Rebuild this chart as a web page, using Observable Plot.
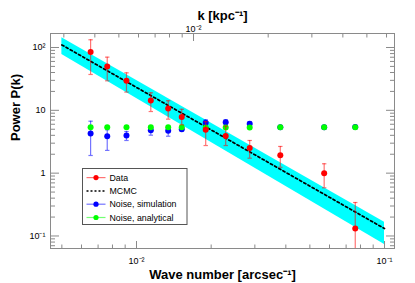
<!DOCTYPE html>
<html><head><meta charset="utf-8">
<script src="https://cdn.jsdelivr.net/npm/d3@7"></script>
<script src="https://cdn.jsdelivr.net/npm/@observablehq/plot@0.6"></script>
<style>
html,body{margin:0;padding:0;background:#fff;}
#chart{width:415px;height:283px;}
svg{font-family:"Liberation Sans",Arial,Helvetica,sans-serif;}
</style></head><body><div id="chart"></div>
<script>
// ---- data ----
const waveNumber = [0.00653,0.00762,0.00911,0.01142,0.01342,0.01522,0.01901,0.02289,0.0286,0.038,0.0571,0.0762];
const dataP  = [85, 50, 29.5, 14.3, 10.7, 7.8, 4.9, 3.9, 2.51, 1.93, 1.0, 0.131];
const dataLo = [37.2, 29.5, 19.5, 9.57, 7.23, 5.89, 2.75, 2.75, 1.73, 1.24, 0.585, 0.02];
const dataHi = [132.7, 70.2, 39.5, 19.0, 14.2, 10.4, 6.6, 5.6, 3.31, 2.66, 1.41, 0.341];
const simP   = [4.27, 3.87, 3.97, 4.83, 4.72, 5.01, 6.34, 6.48, 6.11, 5.36, 5.36, 5.42];
const simLo  = [1.91, 2.30, 3.31, 4.02, 3.87, 4.69, 5.68, 5.94, 5.68, 5.15, 5.15, 5.2];
const simHi  = [6.71, 4.90, 4.60, 5.53, 5.20, 5.33, 7.07, 7.07, 6.57, 5.6, 5.6, 5.65];
const anaP   = [5.36, 5.36, 5.36, 5.36, 5.36, 5.36, 5.33, 5.33, 5.35, 5.38, 5.4, 5.38];
const mcmcK  = [0.005, 0.1];
const mcmcP  = [110, 0.131];
const mcmcLo = [77.4, 0.0733];
const mcmcHi = [142.6, 0.166];
const legendLabels = ["Data", "MCMC", "Noise, simulation", "Noise, analytical"];
const yMajorTicks = [0.1, 1, 10, 100];
const xMajorTicks = [0.01, 0.1];
const kMajorTicks = [0.01];
const kPerArcsec = 0.589;   // k [kpc^-1] per wave number [arcsec^-1]
const xTitle = "Wave number [arcsec⁻¹]";
const yTitle = "Power P(k)";
const topTitle = "k [kpc⁻¹]";

// ---- helpers ----
const xDomain = [0.0045, 0.1097];
const yDomain = [0.0632, 167];
const supMap = {"-":"⁻","0":"⁰","1":"¹","2":"²","3":"³","4":"⁴","5":"⁵","6":"⁶","7":"⁷","8":"⁸","9":"⁹"};
function fmtPow(v){
  const e = Math.round(Math.log10(v));
  if (e === 0) return "1";
  if (e === 1) return "10";
  return "10" + String(e).split("").map(c => supMap[c]).join("");
}
function minorTicks(lo, hi){
  const out = [];
  for (let e = Math.floor(Math.log10(lo)) - 1; e <= Math.ceil(Math.log10(hi)); e++)
    for (let m = 2; m <= 9; m++){ const v = m * Math.pow(10, e); if (v >= lo && v <= hi) out.push(v); }
  return out;
}
const yMinor = minorTicks(yDomain[0], yDomain[1]);
const xMinor = minorTicks(xDomain[0], xDomain[1]);
const kMinor = minorTicks(xDomain[0]*kPerArcsec, xDomain[1]*kPerArcsec);

const rows = waveNumber.map((k, i) => ({k, d: dataP[i], dLo: dataLo[i], dHi: dataHi[i],
  s: simP[i], sLo: simLo[i], sHi: simHi[i], a: anaP[i]}));
const mcmcRows = mcmcK.map((k, i) => ({k, p: mcmcP[i], lo: mcmcLo[i], hi: mcmcHi[i]}));

const cap = {draw(ctx, size){ const w = Math.sqrt(size/Math.PI); ctx.moveTo(-w,0); ctx.lineTo(w,0); }};
const RED = "#ff0000", BLUE = "#0000ff", GREEN = "#00ff00", CYAN = "#00ffff";
const AX = "#8a8a8a";

function errorBars(lo, hi, color){
  return [
    Plot.ruleX(rows, {x:"k", y1: lo, y2: hi, stroke: color, strokeOpacity: 0.55, strokeWidth: 1.2, clip: true}),
    Plot.dot(rows, {x:"k", y: lo, symbol: cap, r: 2.2, stroke: color, strokeOpacity: 0.55, strokeWidth: 1.2, clip: true}),
    Plot.dot(rows, {x:"k", y: hi, symbol: cap, r: 2.2, stroke: color, strokeOpacity: 0.55, strokeWidth: 1.2, clip: true})
  ];
}

const plot = Plot.plot({
  width: 415, height: 283,
  marginTop: 33, marginRight: 21, marginBottom: 35, marginLeft: 50,
  style: {fontFamily: "Liberation Sans, Arial, Helvetica, sans-serif", fontSize: "9px", background: "#fff", overflow: "visible"},
  x: {type: "log", domain: xDomain},
  y: {type: "log", domain: yDomain},
  marks: [
    Plot.areaY(mcmcRows, {x: "k", y1: "lo", y2: "hi", fill: CYAN, clip: true}),
    Plot.line(mcmcRows, {x: "k", y: "p", stroke: "black", strokeWidth: 1.7, strokeDasharray: "2.4,2.4", clip: true}),
    ...errorBars("sLo", "sHi", BLUE),
    Plot.dot(rows, {x: "k", y: "s", r: 3, fill: BLUE}),
    Plot.dot(rows, {x: "k", y: "a", r: 3, fill: GREEN}),
    ...errorBars("dLo", "dHi", RED),
    Plot.dot(rows, {x: "k", y: "d", r: 3, fill: RED}),
    Plot.frame({stroke: AX}),
    // left & right axis ticks (inward)
    Plot.axisY(yMajorTicks, {anchor: "left", tickSize: -9, fill: "none", stroke: AX, label: null}),
    Plot.axisY(yMinor, {anchor: "left", tickSize: -5, fill: "none", stroke: AX, label: null}),
    Plot.axisY(yMajorTicks, {anchor: "right", tickSize: -9, fill: "none", stroke: AX, label: null}),
    Plot.axisY(yMinor, {anchor: "right", tickSize: -5, fill: "none", stroke: AX, label: null}),
    Plot.axisY(yMajorTicks, {anchor: "left", tickSize: 0, tickPadding: 5, tickFormat: fmtPow, label: null}),
    // bottom axis
    Plot.axisX(xMajorTicks, {anchor: "bottom", tickSize: -7, fill: "none", stroke: AX, label: null}),
    Plot.axisX(xMinor, {anchor: "bottom", tickSize: -3.5, fill: "none", stroke: AX, label: null}),
    Plot.axisX(xMajorTicks, {anchor: "bottom", tickSize: 0, tickPadding: 9, tickFormat: fmtPow, label: null}),
    // top axis in k [kpc^-1]
    Plot.axisX(kMajorTicks.map(k => k / kPerArcsec), {anchor: "top", tickSize: -7, fill: "none", stroke: AX, label: null}),
    Plot.axisX(kMinor.map(k => k / kPerArcsec), {anchor: "top", tickSize: -3.5, fill: "none", stroke: AX, label: null}),
    Plot.axisX(kMajorTicks.map(k => k / kPerArcsec), {anchor: "top", tickSize: 0, tickPadding: 2, tickFormat: d => fmtPow(d * kPerArcsec), label: null}),
    // titles
    Plot.text([yTitle], {text: d => d, frameAnchor: "left", dx: -35, rotate: -90, fontWeight: "bold", fontSize: 13, fill: "black"}),
    Plot.text([xTitle], {text: d => d, frameAnchor: "bottom", dy: 21, lineAnchor: "top", fontWeight: "bold", fontSize: 13, fill: "black"}),
    Plot.text([topTitle], {text: d => d, frameAnchor: "top", dy: -14, lineAnchor: "bottom", fontWeight: "bold", fontSize: 13, fill: "black"})
  ]
});

// ---- legend (ROOT TLegend style box) ----
const svg = d3.select(plot);
const lg = svg.append("g").attr("font-size", 8.8).attr("font-family", "Liberation Sans, Arial, sans-serif")
  .attr("text-anchor", "start");
lg.append("rect").attr("x", 82.5).attr("y", 168.5).attr("width", 104.5).attr("height", 56)
  .attr("fill", "white").attr("stroke", "#555").attr("stroke-width", 1);
const legendStyle = [
  {color: RED, dot: true, dash: null, lineOpacity: 0.55},
  {color: "black", dot: false, dash: "2,2", lineOpacity: 1},
  {color: BLUE, dot: true, dash: null, lineOpacity: 0.55},
  {color: GREEN, dot: true, dash: null, lineOpacity: 0.55}
];
legendLabels.forEach((lab, i) => {
  const y = 177.6 + i * 13.3;
  const st = legendStyle[i];
  lg.append("line").attr("x1", 86.5).attr("x2", 105.5).attr("y1", y).attr("y2", y)
    .attr("stroke", st.color).attr("stroke-opacity", st.lineOpacity)
    .attr("stroke-width", st.dash ? 1.5 : 1.2).attr("stroke-dasharray", st.dash);
  if (st.dot) lg.append("circle").attr("cx", 96).attr("cy", y).attr("r", 2.6).attr("fill", st.color);
  lg.append("text").attr("x", 109.5).attr("y", y).attr("dy", "0.35em").attr("fill", "black")
    .attr("text-anchor", "start").text(lab);
});

document.getElementById("chart").appendChild(plot);
</script>
</body></html>
